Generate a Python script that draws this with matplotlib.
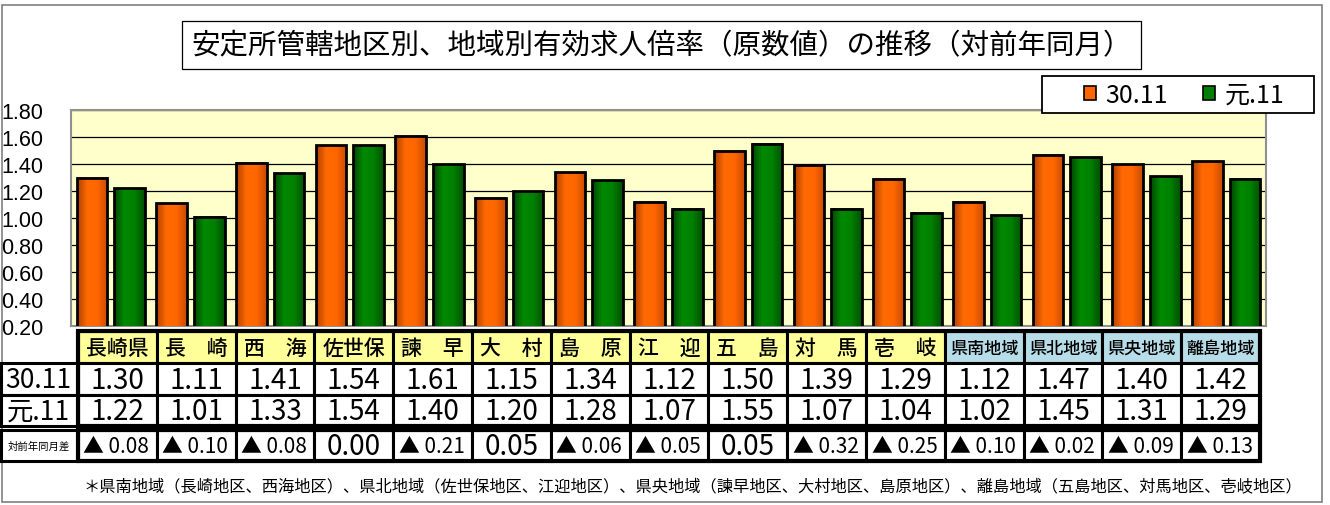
import numpy as np
import matplotlib
matplotlib.use("Agg")
import matplotlib.pyplot as plt
from matplotlib.patches import Rectangle
from matplotlib.colors import LinearSegmentedColormap
from matplotlib.font_manager import FontProperties

# data
areas = ['長崎県', '長　崎', '西　海', '佐世保', '諫　早', '大　村', '島　原', '江　迎',
         '五　島', '対　馬', '壱　岐', '県南地域', '県北地域', '県央地域', '離島地域']
v_h30 = [1.30, 1.11, 1.41, 1.54, 1.61, 1.15, 1.34, 1.12, 1.50, 1.39, 1.29, 1.12, 1.47, 1.40, 1.42]
v_r1 = [1.22, 1.01, 1.33, 1.54, 1.40, 1.20, 1.28, 1.07, 1.55, 1.07, 1.04, 1.02, 1.45, 1.31, 1.29]
series_names = ['30.11', '元.11']
yticks = [0.20, 0.40, 0.60, 0.80, 1.00, 1.20, 1.40, 1.60, 1.80]

title = '安定所管轄地区別、地域別有効求人倍率（原数値）の推移（対前年同月）'
note = ('＊県南地域（長崎地区、西海地区）、県北地域（佐世保地区、江迎地区）、'
        '県央地域（諫早地区、大村地区、島原地区）、離島地域（五島地区、対馬地区、壱岐地区）')

JP = 'Noto Sans CJK JP'
NARROW = ['Liberation Sans Narrow', JP, 'DejaVu Sans']

W, H = 1330, 506
fig = plt.figure(figsize=(W / 100, H / 100), dpi=100)

# page overlay in pixel coords
pg = fig.add_axes([0, 0, 1, 1], zorder=0)
pg.set_xlim(0, W)
pg.set_ylim(H, 0)
pg.axis('off')

# outer frame
pg.add_patch(Rectangle((2, 6), 1320, 497, fill=False, ec='#808080', lw=1.2))

# title box
pg.add_patch(Rectangle((182, 22), 959, 48, fc='white', ec='black', lw=0.9))
pg.text(662, 46, title, ha='center', va='center', fontsize=20.5, family=JP)

# bar chart
ax = fig.add_axes([71 / W, 1 - 327 / H, (1266 - 71) / W, (327 - 111) / H], zorder=1)
ax.set_facecolor('#FFFFCC')
x = np.arange(len(areas))
off = 0.235
bw = 0.385

cm_o = LinearSegmentedColormap.from_list('o', ['#B04000', '#FF6A00', '#FF6600', '#C84C00'])
cm_g = LinearSegmentedColormap.from_list('g', ['#004400', '#008A00', '#008000', '#005000'])
grad = np.linspace(0, 1, 64).reshape(1, -1)

b1 = ax.bar(x - off, v_h30, bw, color='#FF6600', lw=0, zorder=3, label=series_names[0])
b2 = ax.bar(x + off, v_r1, bw, color='#008000', lw=0, zorder=3, label=series_names[1])
for bars, cm in ((b1, cm_o), (b2, cm_g)):
    for b in bars:
        x0 = b.get_x()
        ax.imshow(grad, cmap=cm, extent=(x0, x0 + b.get_width(), 0, b.get_height()),
                  aspect='auto', zorder=3.5, clip_path=b, clip_on=True)
ax.bar(x - off, v_h30, bw, fill=False, ec='black', lw=2.0, zorder=5)
ax.bar(x + off, v_r1, bw, fill=False, ec='black', lw=2.0, zorder=5)

ax.set_xlim(-0.5, len(areas) - 0.5)
ax.set_ylim(0.2, 1.8)
ax.set_yticks(yticks)
ax.set_yticklabels([f'{t:.2f}' for t in yticks], fontsize=15.5, family='Liberation Sans')
ax.tick_params(axis='y', length=0, pad=20)
ax.set_xticks([])
ax.yaxis.grid(True, color='black', lw=0.9)
ax.set_axisbelow(True)
for s in ax.spines.values():
    s.set_color('#909090')
    s.set_linewidth(1.5)

# legend box + legend
fig.add_artist(Rectangle((1042 / W, 1 - 114 / H), 272 / W, 37 / H, transform=fig.transFigure,
                         fc='white', ec='black', lw=1.3, zorder=8))
fig.legend(handles=[b1, b2], labels=series_names, loc='center',
           bbox_to_anchor=(1184 / W, 1 - 96 / H), ncol=2,
           prop=FontProperties(family=NARROW, size=18), frameon=False,
           handlelength=0.5, handleheight=0.5, handletextpad=0.36,
           columnspacing=1.4, borderpad=0, borderaxespad=0)
leg = fig.legends[0]
for h in leg.legend_handles:
    h.set_edgecolor('black')
    h.set_linewidth(1.2)
leg.set_zorder(10)

# table
cx0 = 78
cw = (1260 - 78) / len(areas)
rows_y = [(332, 364), (364, 396), (396, 427), (431, 462)]
lw_in = 2.2

diffs = [round(b - a, 2) for a, b in zip(v_h30, v_r1)]
for i, name in enumerate(areas):
    xl = cx0 + i * cw
    fc = '#FFFF99' if i < 11 else '#B7DDE8'
    y0, y1 = rows_y[0]
    pg.add_patch(Rectangle((xl, y0), cw, y1 - y0, fc=fc, ec='black', lw=lw_in))
    fs = 15 if i < 11 else 12.3
    pg.text(xl + cw / 2, (y0 + y1) / 2 + 1, name, ha='center', va='center', fontsize=fs,
            family=JP, fontweight='medium')
    for r, vals in ((1, v_h30), (2, v_r1)):
        y0, y1 = rows_y[r]
        pg.add_patch(Rectangle((xl, y0), cw, y1 - y0, fc='white', ec='black', lw=lw_in))
        pg.text(xl + cw / 2, (y0 + y1) / 2 + 1, f'{vals[i]:.2f}', ha='center', va='center',
                fontsize=20, family=NARROW)
    y0, y1 = rows_y[3]
    pg.add_patch(Rectangle((xl, y0), cw, y1 - y0, fc='white', ec='black', lw=lw_in))
    d = diffs[i]
    if d < 0:
        pg.text(xl + cw / 2 - 1, (y0 + y1) / 2 + 1, f'▲ {abs(d):.2f}', ha='center', va='center',
                fontsize=15, family=NARROW)
    else:
        pg.text(xl + cw / 2, (y0 + y1) / 2 + 1, f'{d:.2f}', ha='center', va='center',
                fontsize=20, family=NARROW)

# row labels
row_labels = series_names + ['対前年同月差']
for r, lab in zip((1, 2, 3), row_labels):
    y0, y1 = rows_y[r]
    pg.add_patch(Rectangle((1, y0), cx0 - 1, y1 - y0, fc='white', ec='black', lw=lw_in))
    if r < 3:
        pg.text(cx0 / 2 - 1, (y0 + y1) / 2 + 1, lab, ha='center', va='center', fontsize=19, family=NARROW)
    else:
        pg.text(cx0 / 2, (y0 + y1) / 2, lab, ha='center', va='center', fontsize=7.5, family=JP)

# thick outer lines of table
pg.add_patch(Rectangle((cx0, 332), 1260 - cx0, 95, fill=False, ec='black', lw=3))
pg.add_patch(Rectangle((cx0, 431), 1260 - cx0, 31, fill=False, ec='black', lw=3))

pg.text(83, 487, note, ha='left', va='center', fontsize=11.7, family=JP)

fig.savefig('out.png', dpi=100)
